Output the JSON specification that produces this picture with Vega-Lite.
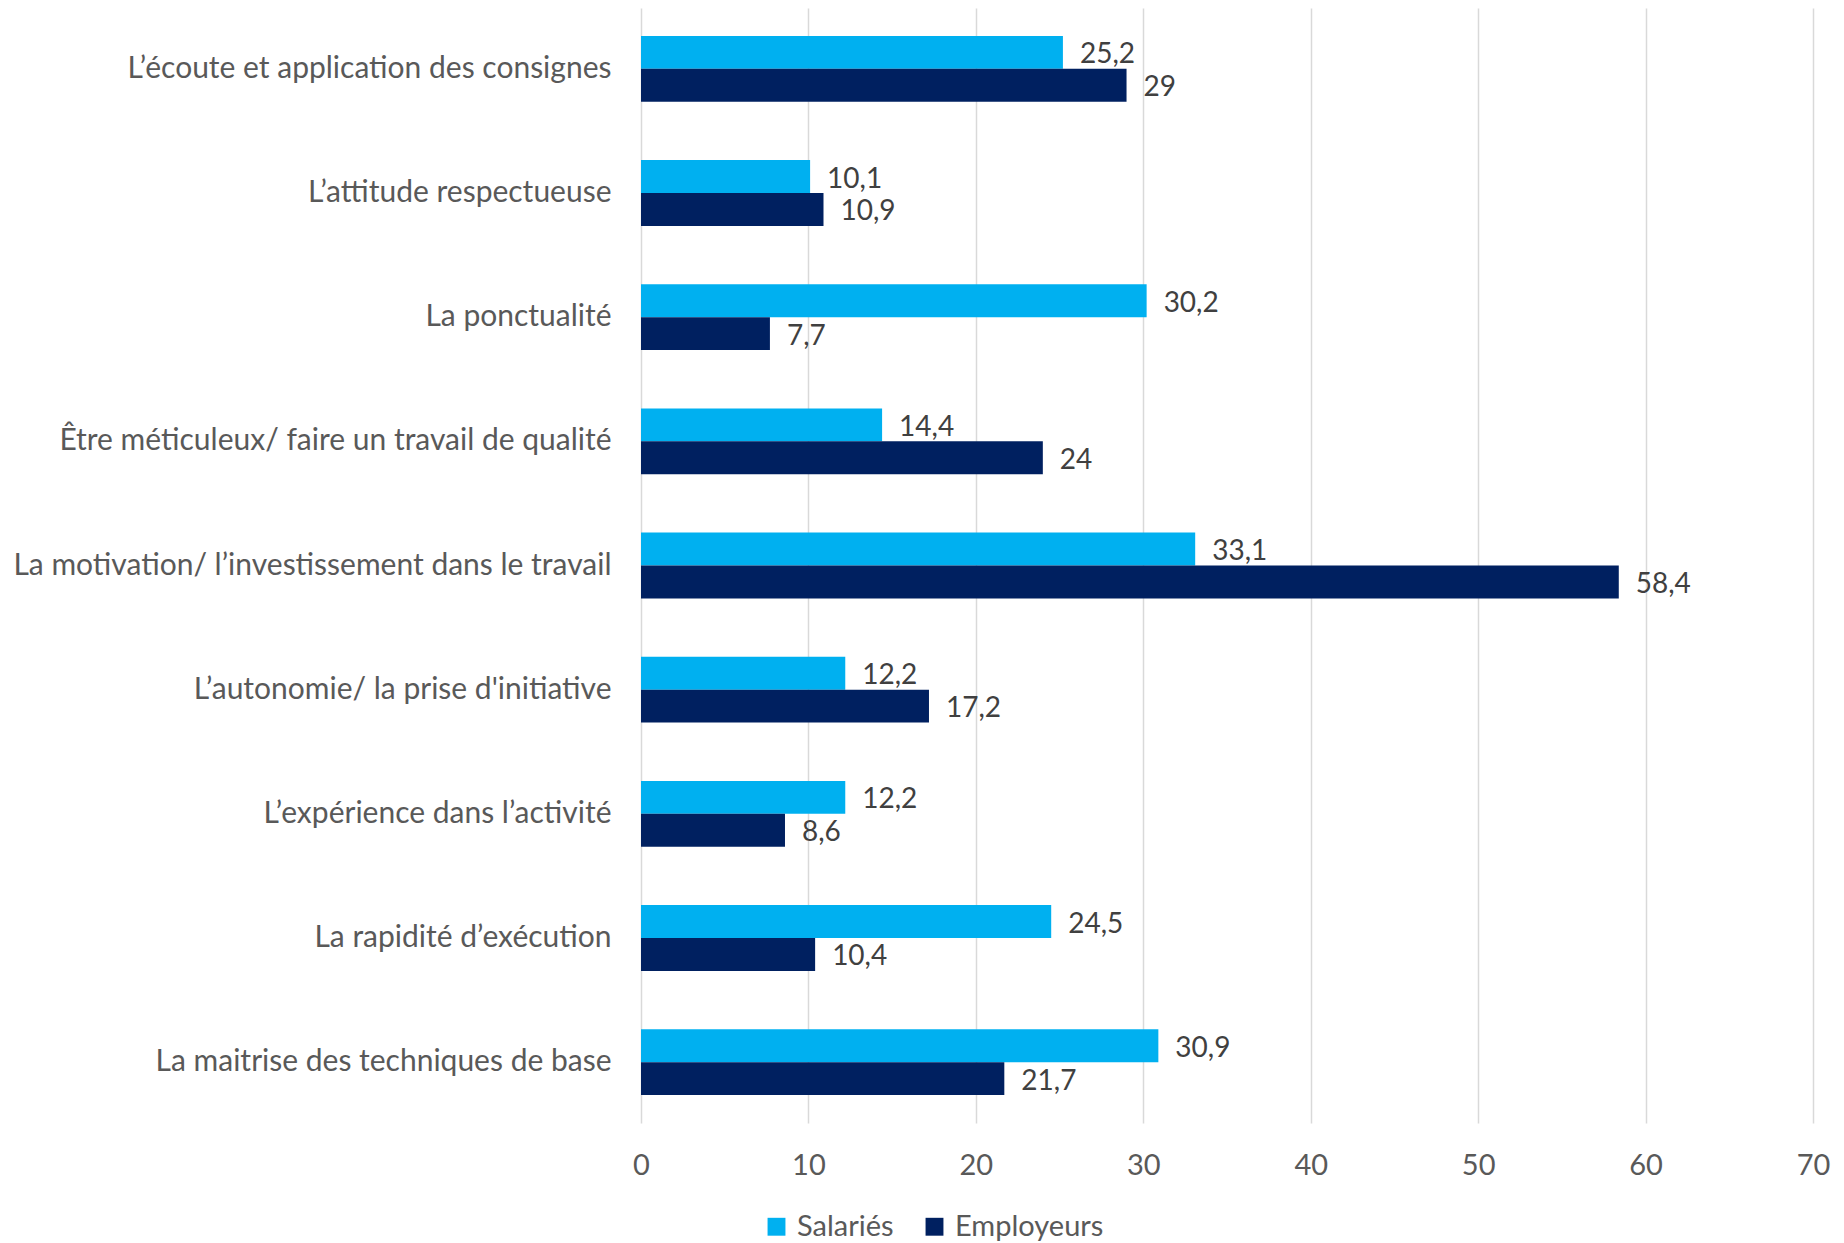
{
  "$schema": "https://vega.github.io/schema/vega-lite/v6.json",
  "width": 1172,
  "height": 1115,
  "autosize": {"type": "none"},
  "padding": {"left": 641, "top": 8, "right": 31, "bottom": 120},
  "background": "white",
  "config": {
    "view": {"stroke": null},
    "font": "Lato",
    "locale": {"number": {"decimal": ",", "thousands": " ", "grouping": [3], "currency": ["", " €"]}}
  },
  "data": {
    "values": [
      {"item": "L’écoute et application des consignes", "serie": "Salariés", "value": 25.2},
      {"item": "L’écoute et application des consignes", "serie": "Employeurs", "value": 29},
      {"item": "L’attitude respectueuse", "serie": "Salariés", "value": 10.1},
      {"item": "L’attitude respectueuse", "serie": "Employeurs", "value": 10.9},
      {"item": "La ponctualité", "serie": "Salariés", "value": 30.2},
      {"item": "La ponctualité", "serie": "Employeurs", "value": 7.7},
      {"item": "Être méticuleux/ faire un travail de qualité", "serie": "Salariés", "value": 14.4},
      {"item": "Être méticuleux/ faire un travail de qualité", "serie": "Employeurs", "value": 24},
      {"item": "La motivation/ l’investissement dans le travail", "serie": "Salariés", "value": 33.1},
      {"item": "La motivation/ l’investissement dans le travail", "serie": "Employeurs", "value": 58.4},
      {"item": "L’autonomie/ la prise d'initiative", "serie": "Salariés", "value": 12.2},
      {"item": "L’autonomie/ la prise d'initiative", "serie": "Employeurs", "value": 17.2},
      {"item": "L’expérience dans l’activité", "serie": "Salariés", "value": 12.2},
      {"item": "L’expérience dans l’activité", "serie": "Employeurs", "value": 8.6},
      {"item": "La rapidité d’exécution", "serie": "Salariés", "value": 24.5},
      {"item": "La rapidité d’exécution", "serie": "Employeurs", "value": 10.4},
      {"item": "La maitrise des techniques de base", "serie": "Salariés", "value": 30.9},
      {"item": "La maitrise des techniques de base", "serie": "Employeurs", "value": 21.7}
    ]
  },
  "encoding": {
    "y": {
      "field": "item", "type": "nominal", "sort": null,
      "scale": {"paddingInner": 0.47, "paddingOuter": 0.225},
      "axis": {"title": null, "domain": false, "ticks": false, "labelFontSize": 30, "labelColor": "#595959", "labelPadding": 30, "labelLimit": 700}
    },
    "yOffset": {"field": "serie", "type": "nominal", "sort": ["Salariés", "Employeurs"]},
    "x": {
      "field": "value", "type": "quantitative",
      "scale": {"domain": [0, 70], "nice": false},
      "axis": {"title": null, "values": [0, 10, 20, 30, 40, 50, 60, 70], "domain": false, "ticks": false, "labelFlush": false, "gridColor": "#D9D9D9", "gridWidth": 1.5, "labelFontSize": 29, "labelColor": "#595959", "labelPadding": 28, "format": "d"}
    }
  },
  "layer": [
    {
      "mark": {"type": "bar"},
      "encoding": {
        "color": {
          "field": "serie", "type": "nominal",
          "scale": {"domain": ["Salariés", "Employeurs"], "range": ["#00B0F0", "#002060"]},
          "legend": {"title": null, "orient": "none", "legendX": 121, "legendY": 1204, "direction": "horizontal", "symbolType": "square", "symbolSize": 320, "symbolStrokeWidth": 0, "labelFontSize": 29, "labelColor": "#595959", "columnPadding": 26, "labelOffset": 6}
        }
      }
    },
    {
      "mark": {"type": "text", "align": "left", "baseline": "middle", "dx": 17, "dy": 3, "fontSize": 28, "color": "#404040"},
      "encoding": {
        "text": {"field": "value", "type": "quantitative", "format": ".1~f"}
      }
    }
  ]
}
